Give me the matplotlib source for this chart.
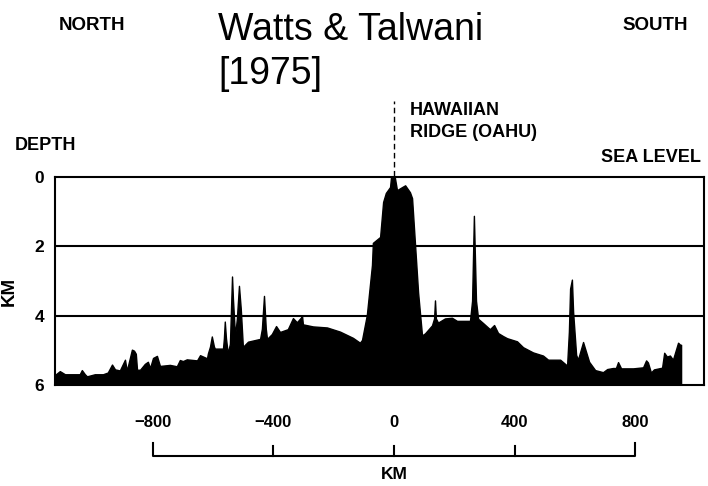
import matplotlib
matplotlib.use("Agg")
import matplotlib.pyplot as plt
import matplotlib.transforms as mtransforms

plt.rcParams["font.family"] = ["Liberation Sans", "DejaVu Sans"]

# Bathymetric profile across the Hawaiian ridge (km along track, depth in km)
dist = [-1124, -1108, -1091, -1042, -1035, -1025, -1018, -992, -965, -949,
        -935, -925, -909, -892, -886, -869, -862, -856, -852, -842,
        -826, -816, -809, -799, -786, -776, -743, -720, -710, -700,
        -687, -653, -643, -620, -617, -610, -604, -597, -594, -567,
        -564, -561, -557, -551, -544, -537, -534, -527, -521, -514,
        -508, -501, -484, -444, -438, -431, -425, -421, -405, -391,
        -378, -352, -335, -322, -308, -305, -302, -269, -222, -179,
        -136, -113, -106, -90, -73, -70, -46, -36, -27, -13,
        -10, 3, 10, 27, 37, 53, 60, 70, 80, 93,
        103, 126, 133, 136, 139, 146, 169, 192, 209, 252,
        259, 265, 272, 279, 295, 318, 332, 345, 362, 375,
        408, 428, 461, 494, 511, 551, 574, 580, 584, 590,
        594, 604, 610, 627, 634, 647, 667, 693, 707, 726,
        736, 743, 753, 793, 826, 836, 842, 852, 862, 889,
        896, 905, 915, 925, 942, 949, 952]
depth = [5.71, 5.60, 5.69, 5.69, 5.57, 5.69, 5.75, 5.69, 5.69, 5.64,
         5.41, 5.55, 5.58, 5.27, 5.59, 4.98, 5.01, 5.10, 5.56, 5.56,
         5.39, 5.33, 5.51, 5.22, 5.16, 5.45, 5.42, 5.46, 5.28, 5.31,
         5.26, 5.29, 5.14, 5.23, 5.09, 4.89, 4.60, 4.89, 4.95, 4.95,
         4.66, 4.17, 4.66, 5.09, 4.81, 2.87, 3.51, 4.58, 4.09, 3.14,
         3.80, 4.90, 4.75, 4.67, 4.38, 3.43, 4.38, 4.67, 4.53, 4.30,
         4.47, 4.39, 4.07, 4.19, 4.05, 3.99, 4.25, 4.31, 4.34, 4.46,
         4.64, 4.78, 4.70, 3.98, 2.54, 1.90, 1.73, 0.72, 0.46, 0.29,
         0.02, 0.02, 0.38, 0.29, 0.24, 0.44, 0.61, 1.97, 3.33, 4.57,
         4.51, 4.28, 4.08, 3.56, 4.08, 4.20, 4.08, 4.06, 4.15, 4.15,
         3.57, 1.12, 3.57, 4.09, 4.21, 4.39, 4.27, 4.50, 4.59, 4.65,
         4.74, 4.91, 5.06, 5.15, 5.27, 5.27, 5.44, 4.46, 3.22, 2.96,
         3.89, 5.13, 5.27, 4.76, 4.96, 5.33, 5.57, 5.63, 5.54, 5.51,
         5.51, 5.34, 5.52, 5.52, 5.49, 5.29, 5.35, 5.64, 5.55, 5.50,
         5.07, 5.18, 5.15, 5.27, 4.78, 4.84, 4.84]

depth_ticks = [0, 2, 4, 6]
grid_depths = [2, 4]
scale_ticks = [-800, -400, 0, 400, 800]
scale_labels = ["\u2212800", "\u2212400", "0", "400", "800"]

fig = plt.figure(figsize=(7.08, 4.86), dpi=100)
W, H = 708, 486

def fx(px):
    return px / W

def fy(py):
    return 1 - py / H

ax = fig.add_axes([fx(55), fy(385), fx(649), 208 / H])
ax.fill_between(dist, depth, 6, color="black", lw=1.0, edgecolor="black")
for d in grid_depths:
    ax.axhline(d, color="black", lw=1.5)
ax.set_xlim(-1124, 1028)
ax.set_ylim(6, 0)
ax.set_xticks([])
ax.set_yticks(depth_ticks)
ax.set_yticklabels([str(t) for t in depth_ticks], fontsize=12.5, fontweight="bold")
ax.tick_params(axis="y", length=0, pad=8)
for s in ax.spines.values():
    s.set_linewidth(1.5)
ax.set_ylabel("KM", fontsize=13.5, fontweight="bold")
ax.yaxis.set_label_coords(-0.057, 0.45)

# dashed marker above the ridge crest
ax.plot([0, 0], [-0.02, -2.2], color="black", lw=1, ls=(0, (4, 2.5)), clip_on=False)

# distance scale bar under the profile
tr = mtransforms.blended_transform_factory(ax.transData, fig.transFigure)
bar_y = fy(456)
ax.plot([scale_ticks[0], scale_ticks[0], scale_ticks[-1], scale_ticks[-1]],
        [fy(443), bar_y, bar_y, fy(443)], color="black", lw=1.5,
        transform=tr, clip_on=False)
for t in scale_ticks[1:-1]:
    ax.plot([t, t], [bar_y, fy(446)], color="black", lw=1.5, transform=tr, clip_on=False)
for t, lab in zip(scale_ticks, scale_labels):
    ax.text(t, fy(422), lab, transform=tr, ha="center", va="center",
            fontsize=12, fontweight="bold")
ax.text(0, fy(474), "KM", transform=tr, ha="center", va="center",
        fontsize=12.5, fontweight="bold")

# labels around the profile
fig.text(fx(59), fy(25), "NORTH", ha="left", va="center", fontsize=13.5, fontweight="bold")
fig.text(fx(688), fy(25), "SOUTH", ha="right", va="center", fontsize=13.5, fontweight="bold")
fig.text(fx(218), fy(40), "Watts & Talwani", ha="left", va="baseline", fontsize=27)
fig.text(fx(218), fy(84), "[1975]", ha="left", va="baseline", fontsize=27)
fig.text(fx(15), fy(145), "DEPTH", ha="left", va="center", fontsize=13, fontweight="bold")
fig.text(fx(410), fy(102), "HAWAIIAN\nRIDGE (OAHU)", ha="left", va="top",
         fontsize=13, fontweight="bold", linespacing=1.35)
fig.text(fx(701), fy(158), "SEA LEVEL", ha="right", va="center", fontsize=13, fontweight="bold")

fig.savefig("out.png", dpi=100)
